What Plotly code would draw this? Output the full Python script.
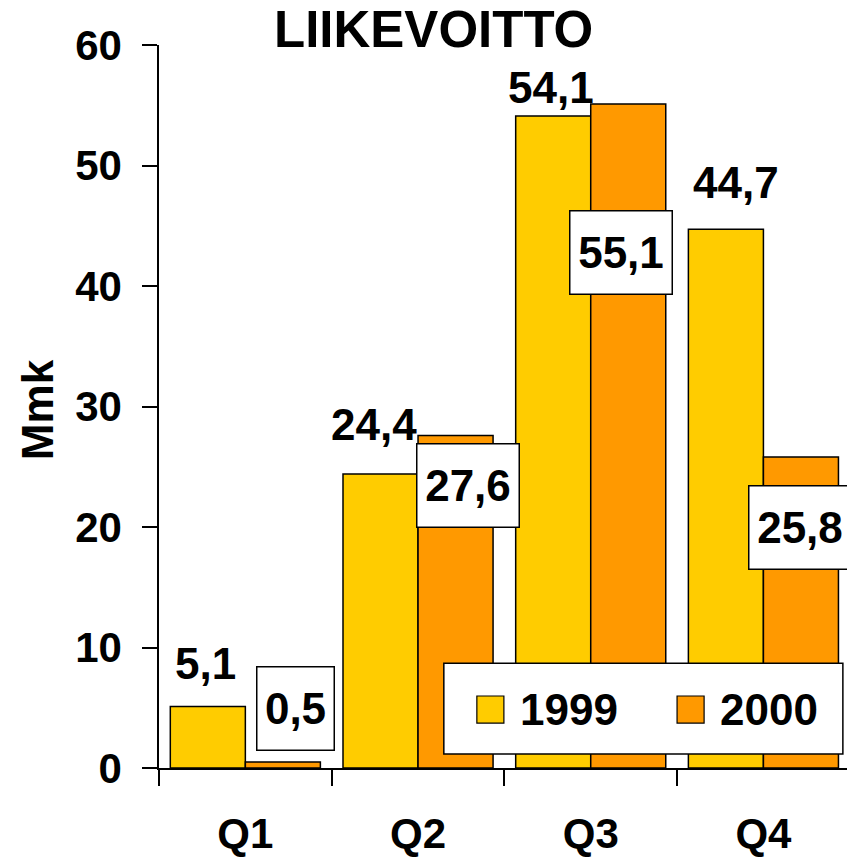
import plotly.graph_objects as go

quarters = ["Q1", "Q2", "Q3", "Q4"]
series_names = ["1999", "2000"]
values_1999 = [5.1, 24.4, 54.1, 44.7]
values_2000 = [0.5, 27.6, 55.1, 25.8]
labels_1999 = ["5,1", "24,4", "54,1", "44,7"]
labels_2000 = ["0,5", "27,6", "55,1", "25,8"]
y_ticks = [0, 10, 20, 30, 40, 50, 60]

title_text = "LIIKEVOITTO"
y_title = "Mmk"

colors = ["#FFCC00", "#FF9900"]
FONT = "Liberation Sans, Arial, sans-serif"

fig = go.Figure()
for name, vals, col in zip(series_names, [values_1999, values_2000], colors):
    fig.add_trace(go.Bar(
        x=quarters, y=vals, name=name,
        marker=dict(color=col, line=dict(color="black", width=1.5)),
        showlegend=False,
    ))

# 1999 labels (plain text above bars)
lab1_xshift = [-40, -44, -40, -27]
lab1_yshift = [43, 49, 29, 47]
for q, v, t, xs, ys in zip(quarters, values_1999, labels_1999, lab1_xshift, lab1_yshift):
    fig.add_annotation(x=q, y=v, text=t, showarrow=False, xshift=xs, yshift=ys,
                       xanchor="center", yanchor="middle",
                       font=dict(family=FONT, size=44, color="black", weight="bold"))

# 2000 labels (boxed)
lab2_xshift = [50, 50, 30, 37]
lab2_yshift = [53, -50, -148, -70]
for q, v, t, xs, ys in zip(quarters, values_2000, labels_2000, lab2_xshift, lab2_yshift):
    fig.add_annotation(x=q, y=v, text=t, showarrow=False, xshift=xs, yshift=ys,
                       xanchor="center", yanchor="middle",
                       width=101 if len(t) > 3 else 76, height=82,
                       bgcolor="white", bordercolor="black", borderwidth=1.5, borderpad=0,
                       font=dict(family=FONT, size=44, color="black", weight="bold"))

# Manual legend
fig.add_shape(type="rect", xref="paper", yref="paper", x0=0.414, x1=0.994, y0=0.0194, y1=0.145,
              fillcolor="white", line=dict(color="black", width=1.5), layer="above")
sw_x = [0.462, 0.753]
tx_x = [0.522, 0.8125]
for name, col, sx, tx in zip(series_names, colors, sw_x, tx_x):
    fig.add_shape(type="rect", xref="paper", yref="paper", x0=sx, x1=sx + 0.0393,
                  y0=0.0622, y1=0.0996, fillcolor=col,
                  line=dict(color="black", width=1.2), layer="above")
    fig.add_annotation(xref="paper", yref="paper", x=tx, y=0.0809, text=name, showarrow=False,
                       xanchor="left", yanchor="middle",
                       font=dict(family=FONT, size=44, color="black", weight="bold"))

# Y axis title
fig.add_annotation(xref="paper", yref="paper", x=-0.1773, y=0.495, text=y_title, showarrow=False,
                   textangle=-90, xanchor="center", yanchor="middle",
                   font=dict(family=FONT, size=44, color="black", weight="bold"))

fig.update_layout(
    width=847, height=857,
    margin=dict(l=159, r=0, t=45, b=89),
    paper_bgcolor="white", plot_bgcolor="rgba(0,0,0,0)",
    barmode="group", bargap=0.131, bargroupgap=0,
    title=dict(text=title_text, x=0.512, xanchor="center", y=0.966, yanchor="middle",
               yref="container",
               font=dict(family=FONT, size=51, color="black", weight="bold")),
    font=dict(family=FONT, color="black"),
)
fig.update_xaxes(
    range=[-0.5, 3.484], showline=True, linecolor="black", linewidth=1.5, automargin=False,
    ticks="outside", ticklen=16, tickwidth=1.5, tickcolor="black", tickson="boundaries",
    ticklabelstandoff=28, showgrid=False, zeroline=False,
    tickfont=dict(family=FONT, size=42, color="black", weight="bold"),
)
fig.update_yaxes(
    range=[0, 60], tickvals=y_ticks, showline=True, linecolor="black", linewidth=1.5,
    automargin=False,
    ticks="outside", ticklen=15, tickwidth=1.5, tickcolor="black",
    ticklabelstandoff=12, showgrid=False, zeroline=False,
    tickfont=dict(family=FONT, size=42, color="black", weight="bold"),
)

fig.write_html("out.html", config={"displayModeBar": False},
               post_script="document.body.style.margin='0px';")
